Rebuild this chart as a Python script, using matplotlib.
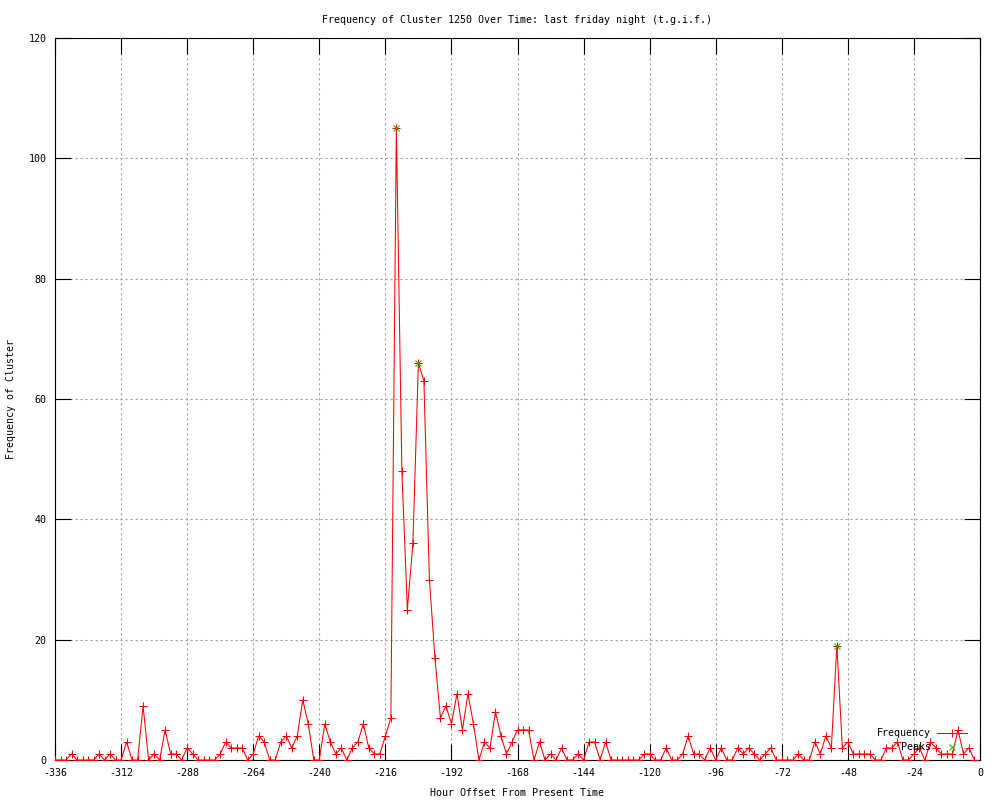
import matplotlib
matplotlib.use("Agg")
import matplotlib.pyplot as plt
import numpy as np

# ---- data ----
hours = list(range(-336, 0, 2))
frequency = [
    0, 0, 0, 1, 0, 0, 0, 0, 1, 0, 1, 0,          # -336 .. -314
    0, 3, 0, 0, 9, 0, 1, 0, 5, 1, 1, 0,          # -312 .. -290
    2, 1, 0, 0, 0, 0, 1, 3, 2, 2, 2, 0,          # -288 .. -266
    1, 4, 3, 0, 0, 3, 4, 2, 4, 10, 6, 0,         # -264 .. -242
    0, 6, 3, 1, 2, 0, 2, 3, 6, 2, 1, 1,          # -240 .. -218
    4, 7, 105, 48, 25, 36, 66, 63, 30, 17, 7, 9, # -216 .. -194
    6, 11, 5, 11, 6, 0, 3, 2, 8, 4, 1, 3,        # -192 .. -170
    5, 5, 5, 0, 3, 0, 1, 0, 2, 0, 0, 1,          # -168 .. -146
    0, 3, 3, 0, 3, 0, 0, 0, 0, 0, 0, 1,          # -144 .. -122
    1, 0, 0, 2, 0, 0, 1, 4, 1, 1, 0, 2,          # -120 .. -98
    0, 2, 0, 0, 2, 1, 2, 1, 0, 1, 2, 0,          # -96 .. -74
    0, 0, 0, 1, 0, 0, 3, 1, 4, 2, 19, 2,         # -72 .. -50
    3, 1, 1, 1, 1, 0, 0, 2, 2, 3, 0, 0,          # -48 .. -26
    1, 2, 0, 3, 2, 1, 1, 1, 5, 1, 2, 0,          # -24 .. -2
]
peak_hours = [-212, -204, -52]
peak_values = [105, 66, 19]

title = "Frequency of Cluster 1250 Over Time: last friday night (t.g.i.f.)"
xlabel = "Hour Offset From Present Time"
ylabel = "Frequency of Cluster"
xticks = list(range(-336, 1, 24))
yticks = list(range(0, 121, 20))

# ---- style ----
FONT = "DejaVu Sans Mono"
FS = 7.2
plt.rcParams["font.family"] = FONT
plt.rcParams["font.size"] = FS

fig = plt.figure(figsize=(10, 8), dpi=100)
ax = fig.add_axes([0.055, 0.05, 0.925, 0.9525 - 0.05])

ax.plot(hours, frequency, color="#ff0000", lw=0.75, marker="+", ms=6,
        mew=0.75, label="Frequency", zorder=3)
ax.plot(peak_hours, peak_values, linestyle="none", color="#00c000",
        marker="x", ms=5, mew=0.75, label="Peaks", zorder=4)

ax.set_xlim(-336, 0)
ax.set_ylim(0, 120)
ax.set_xticks(xticks)
ax.set_yticks(yticks)
ax.set_xticklabels([str(t) for t in xticks])
ax.set_yticklabels([str(t) for t in yticks])

ax.grid(True, color="#a0a0a0", linestyle=(0, (2, 2.5)), lw=0.8, zorder=0)
for s in ax.spines.values():
    s.set_linewidth(0.8)
    s.set_color("black")
ax.tick_params(direction="in", length=11.5, width=0.8, top=True, right=True,
               labelsize=FS, pad=6)

ax.set_title(title, fontsize=FS, pad=11)
ax.set_xlabel(xlabel, fontsize=FS, labelpad=7)
ax.set_ylabel(ylabel, fontsize=FS, labelpad=9)

leg = ax.legend(loc="lower right", bbox_to_anchor=(0.988, 0.008), frameon=False,
                markerfirst=False, fontsize=FS, handlelength=3.0,
                borderaxespad=0.0, borderpad=0.2, labelspacing=0.38,
                handletextpad=0.6)

fig.savefig("out.png", dpi=100)
